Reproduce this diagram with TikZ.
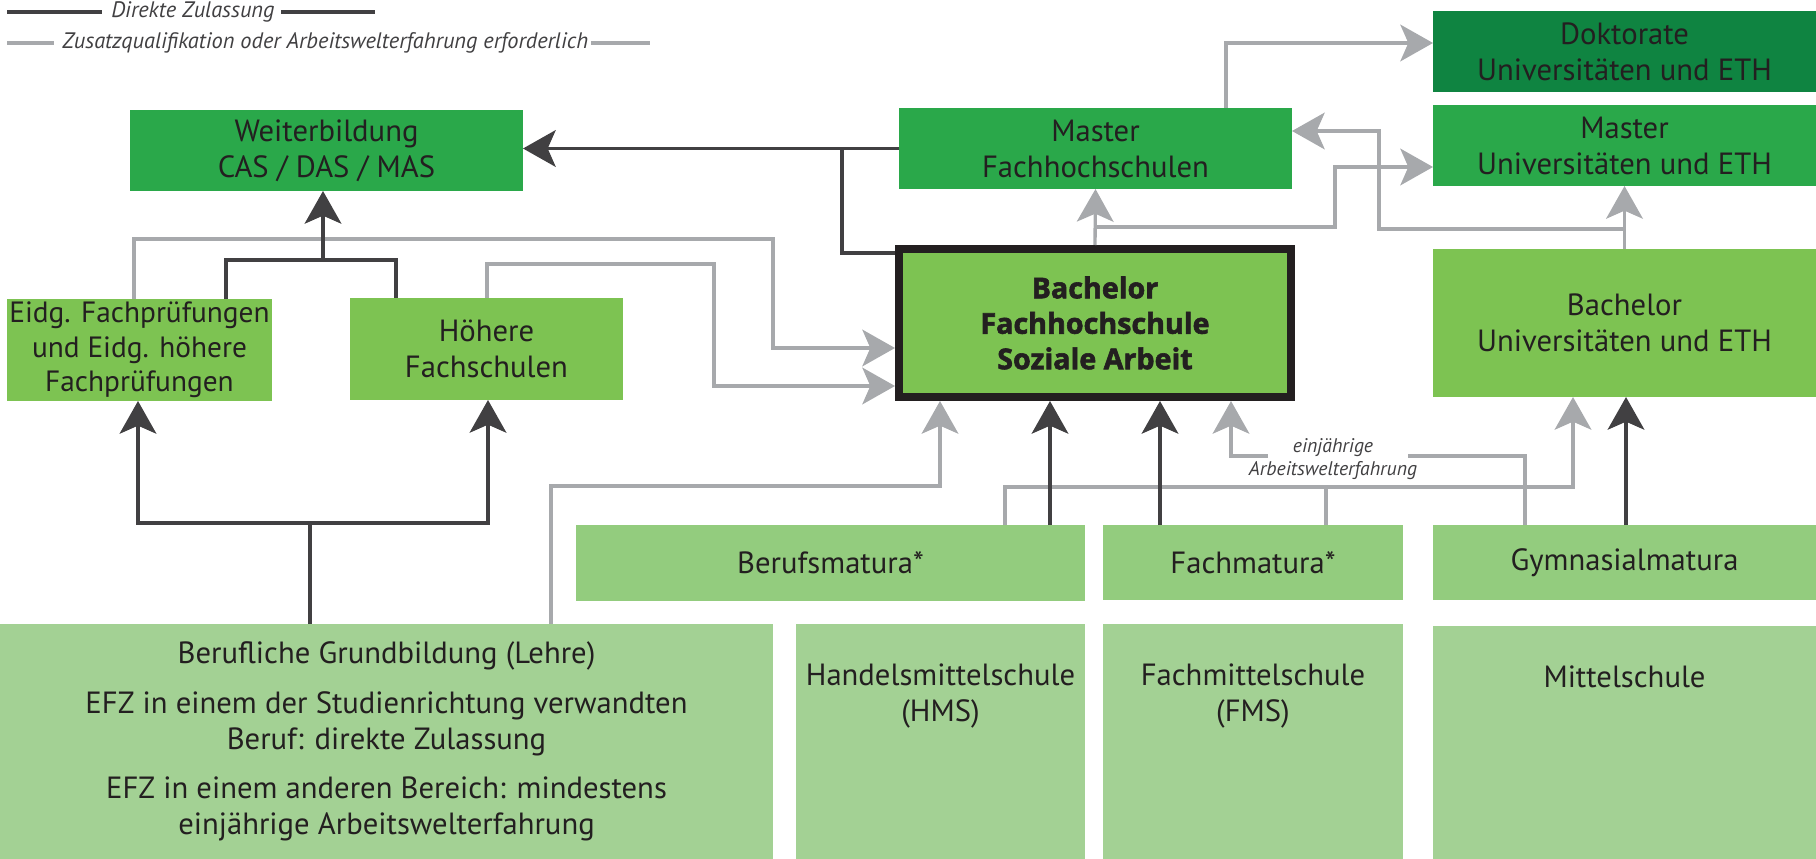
\documentclass[tikz,border=0pt]{standalone}
\usepackage{fontspec}
\setmainfont{PT Sans}
\newfontfamily\heavyfont{Open Sans}[FakeBold=2]
\usetikzlibrary{arrows.meta}
\definecolor{txt}{HTML}{231F20}
\definecolor{dk}{HTML}{414042}
\definecolor{gy}{HTML}{A7A9AC}
\definecolor{gdark}{HTML}{0F8441}
\definecolor{gmid}{HTML}{2AA84A}
\definecolor{glight}{HTML}{7DC352}
\definecolor{gmat}{HTML}{93CC7E}
\definecolor{gbase}{HTML}{A3D194}
\begin{document}
\begin{tikzpicture}[x=0.75pt,y=-0.75pt,
  box/.style={inner sep=0pt, outer sep=0pt, align=center, text=txt, font=\fontsize{23}{27}\selectfont},
  btext/.style={inner sep=0pt, align=center, text=txt, font=\fontsize{23}{27}\selectfont},
  lbl/.style={inner sep=0pt, align=center, text=dk, font=\fontsize{14.8}{17}\selectfont\itshape},
  legtxt/.style={inner sep=0pt, text=dk, font=\fontsize{16.8}{19}\selectfont\itshape},
  dline/.style={draw=dk, line width=2.5pt, line join=miter},
  gline/.style={draw=gy, line width=2.5pt, line join=miter},
  >={Stealth[length=24.5pt,width=27.5pt,inset=6pt]}
]
\useasboundingbox (0,0) rectangle (1816,859);

% ---------- boxes ----------
\node[box, fill=gmid, minimum width=294.75pt, minimum height=60.75pt] (weiter) at (326.5,150.5) {Weiterbildung\\CAS / DAS / MAS};
\node[box, fill=gdark, minimum width=287.25pt, minimum height=60.75pt] (dokt) at (1624.5,51.5) {Doktorate\\Universitäten und ETH};
\node[box, fill=gmid, minimum width=294.75pt, minimum height=60.75pt] (mfh) at (1095.5,148.5) {Master\\Fachhochschulen};
\node[box, fill=gmid, minimum width=287.25pt, minimum height=60.75pt] (muni) at (1624.5,145.5) {Master\\Universitäten und ETH};
\node[box, fill=glight, minimum width=198.75pt, minimum height=76.5pt, font=\fontsize{22}{26}\selectfont] (eidg) at (139.5,350) {Eidg. Fachprüfungen\\und Eidg. höhere\\Fachprüfungen};
\node[box, fill=glight, minimum width=204.75pt, minimum height=76.5pt] (hfs) at (486.5,349) {Höhere\\Fachschulen};
\node[box, fill=glight, draw=txt, line width=6pt, outer sep=3pt, minimum width=294pt, minimum height=111pt,
      font=\fontsize{21.5}{26.6}\heavyfont\bfseries] (bfh) at (1095,323) {Bachelor\\Fachhochschule\\Soziale Arbeit};
\node[box, fill=glight, minimum width=287.25pt, minimum height=111pt] (buni) at (1624.5,323) {Bachelor\\Universitäten und ETH};
\node[box, fill=gmat, minimum width=381.75pt, minimum height=57pt] (bm) at (830.5,563) {Berufsmatura*};
\node[box, fill=gmat, minimum width=225pt, minimum height=56.25pt] (fm) at (1253,562.5) {Fachmatura*};
\node[box, fill=gmat, minimum width=287.25pt, minimum height=56.25pt] (gm) at (1624.5,562.5) {Gymnasialmatura};
\node[box, fill=gbase, minimum width=579.75pt, minimum height=176.25pt] (grund) at (386.5,741.5) {Berufliche Grundbildung (Lehre)\\[10pt]
  EFZ in einem der Studienrichtung verwandten\\Beruf: direkte Zulassung\\[10pt]
  EFZ in einem anderen Bereich: mindestens\\einjährige Arbeitswelterfahrung};
\node[box, fill=gbase, minimum width=216.75pt, minimum height=176.25pt,
      label={[btext, anchor=north, yshift=-30pt]north:Handelsmittelschule\\(HMS)}] (hms) at (940.5,741.5) {};
\node[box, fill=gbase, minimum width=225pt, minimum height=176.25pt,
      label={[btext, anchor=north, yshift=-30pt]north:Fachmittelschule\\(FMS)}] (fms) at (1253,741.5) {};
\node[box, fill=gbase, minimum width=287.25pt, minimum height=174.75pt,
      label={[btext, anchor=north, yshift=-30pt]north:Mittelschule}] (mittel) at (1624.5,742.5) {};

% ---------- legend ----------
\node[legtxt, anchor=west] (leg1) at (111,12) {Direkte Zulassung};
\node[legtxt, anchor=west] (leg2) at (62,43) {Zusatzqualifikation oder Arbeitswelterfahrung erforderlich};
\coordinate (la1) at (7,12);  \coordinate (la2) at (102,12);
\coordinate (la3) at (281,12); \coordinate (la4) at (375,12);
\coordinate (lb1) at (7,43);  \coordinate (lb2) at (54,43);
\coordinate (lb3) at (591,43); \coordinate (lb4) at (650,43);
\draw[dline, line width=3pt] (la1) -- (la2);
\draw[dline, line width=3pt] (la3) -- (la4);
\draw[gline, line width=3pt] (lb1) -- (lb2);
\draw[gline, line width=3pt] (lb3) -- (lb4);

% ---------- gray connectors ----------
\coordinate (g1) at (134,239); \coordinate (g1b) at (773,348);
\draw[gline,->] (eidg.north -| g1) -- (g1) -| (g1b) -- (bfh.west |- g1b);
\coordinate (g2) at (487,264); \coordinate (g2b) at (714,386);
\draw[gline,->] (hfs.north -| g2) -- (g2) -| (g2b) -- (bfh.west |- g2b);
\coordinate (g3) at (551,486); \coordinate (g3b) at (940,486);
\draw[gline,->] (grund.north -| g3) -- (g3) -- (g3b) -- (bfh.south -| g3b);
\coordinate (g4) at (1005,487); \coordinate (g4b) at (1573,487); \coordinate (g4m) at (1326,487);
\draw[gline,->] (bm.north -| g4) -- (g4) -- (g4b) -- (buni.south -| g4b);
\draw[gline] (fm.north -| g4m) -- (g4m);
\coordinate (g5r) at (1408,456); \coordinate (g5l) at (1268,456); \coordinate (g5c) at (1231,456);
\coordinate (g5s) at (1525,456);
\draw[gline] (gm.north -| g5s) -- (g5s) -- (g5r);
\draw[gline,->] (g5l) -- (g5c) -- (bfh.south -| g5c);
\node[lbl] (ajw) at (1333,459) {einjährige\\Arbeitswelterfahrung};

\coordinate (u1) at (1095,227); \coordinate (u1b) at (1335,167);
\draw[gline,->] (bfh.north) -- (mfh.south);
\draw[gline,->] (bfh.north |- u1) -| (u1b) -- (muni.west |- u1b);
\coordinate (u2) at (1379,229); \coordinate (u2b) at (1379,131);
\draw[gline,->] (buni.north) -- (muni.south);
\draw[gline,->] (buni.north |- u2) -- (u2) -- (u2b) -- (mfh.east |- u2b);
\coordinate (u3) at (1226,43);
\draw[gline,->] (mfh.north -| u3) -- (u3) -- (dokt.west |- u3);

% ---------- dark connectors ----------
\draw[dline,->] (mfh.west) -- (weiter.east |- mfh.west);
\coordinate (bfhl) at (895,253); \coordinate (j1) at (842,148.5);
\draw[dline] (bfhl) -| (j1);
\coordinate (t1) at (226,260); \coordinate (t2) at (396,260); \coordinate (wj) at (323,260);
\draw[dline] (eidg.north -| t1) -- (t1) -- (t2) -- (hfs.north -| t2);
\draw[dline,->] (wj) -- (weiter.south -| wj);
\coordinate (b0) at (310,523); \coordinate (b1) at (138,523); \coordinate (b2) at (488,523);
\draw[dline] (grund.north -| b0) -- (b0);
\draw[dline,->] (b0) -- (b1) -- (eidg.south -| b1);
\draw[dline,->] (b0) -- (b2) -- (hfs.south -| b2);
\coordinate (d1) at (1050,0); \coordinate (d2) at (1160,0); \coordinate (d3) at (1626,0);
\draw[dline,->] (bm.north -| d1) -- (bfh.south -| d1);
\draw[dline,->] (fm.north -| d2) -- (bfh.south -| d2);
\draw[dline,->] (gm.north -| d3) -- (buni.south -| d3);
\end{tikzpicture}
\end{document}
